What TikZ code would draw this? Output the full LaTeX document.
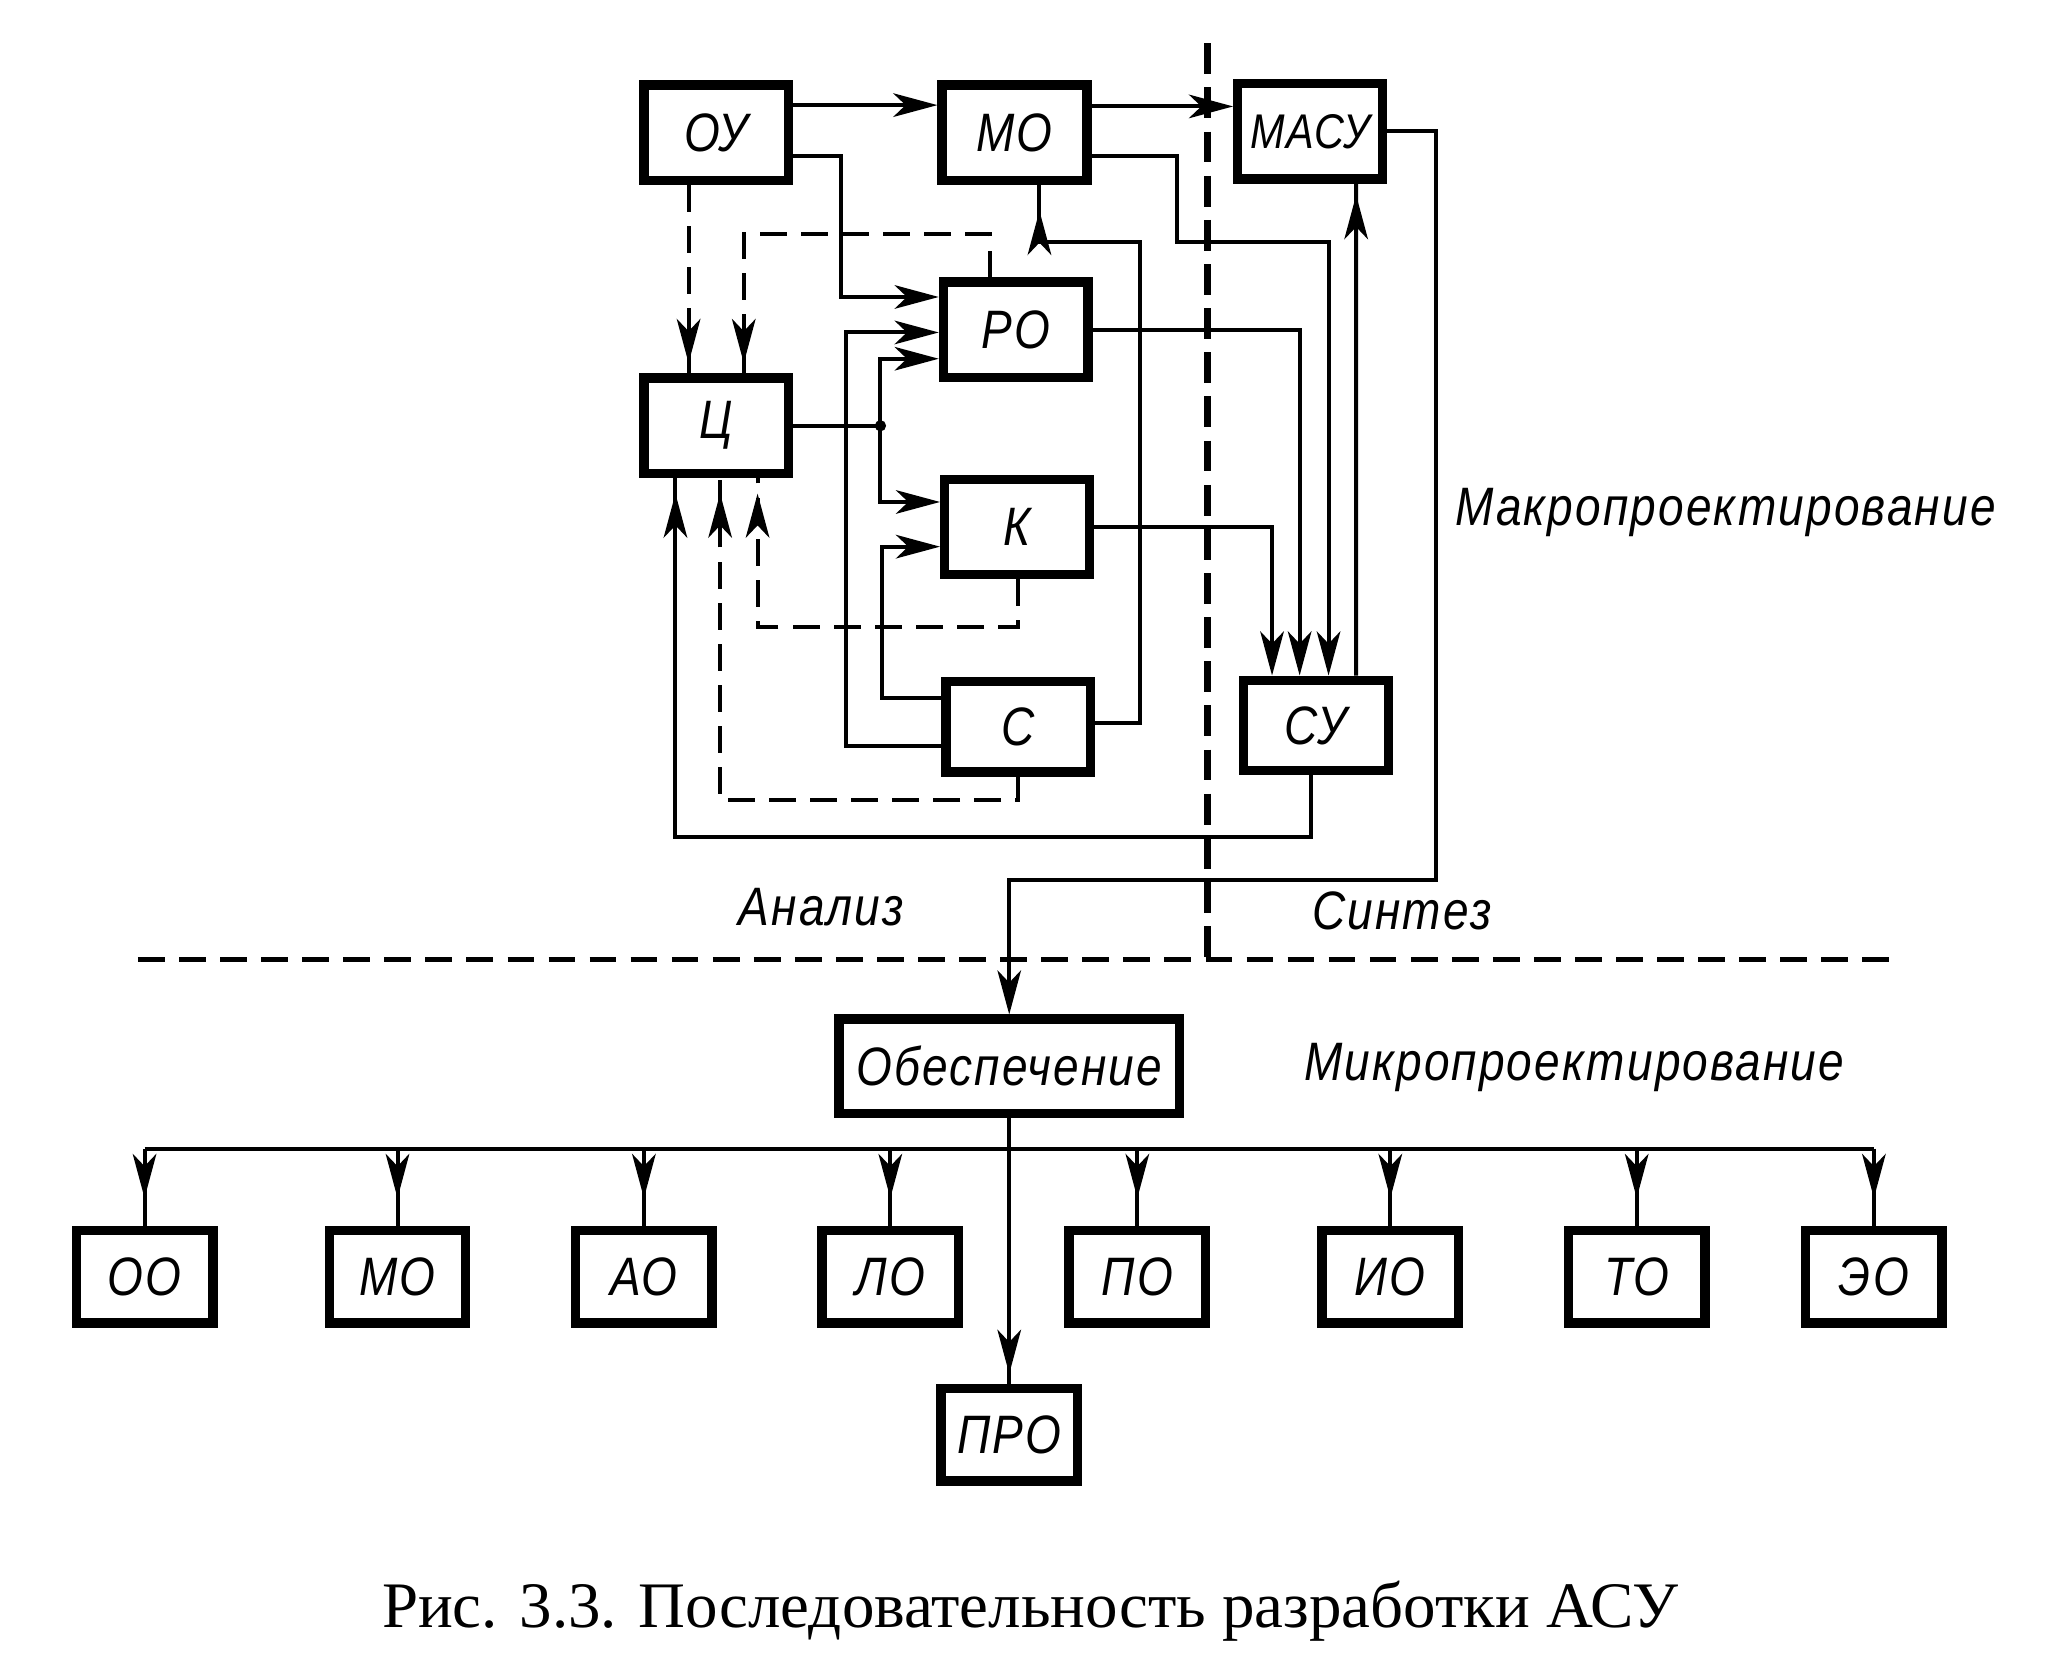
\documentclass[tikz,border=0pt]{standalone}
\usepackage{fontspec}
\setmainfont{Liberation Serif}
\newfontfamily\drawfont[FakeStretch=0.85,LetterSpace=4]{Liberation Sans}
\usetikzlibrary{calc, arrows.meta, decorations.markings}

\tikzset{
  flow/.tip={Stealth[length=4.3mm,width=2.3mm,inset=1.2mm]},
  blk/.style={draw, line width=2.6pt, minimum width=1.41cm, minimum height=0.93cm,
    inner sep=0pt, font=\drawfont\itshape\fontsize{15}{15}\selectfont},
  sblk/.style={blk, minimum width=1.33cm, minimum height=0.9cm},
  lbl/.style={font=\drawfont\itshape\fontsize{15}{15}\selectfont},
  dsh/.style={dash pattern=on 0.26cm off 0.14cm},
  tipgap/.style={postaction={decorate,decoration={markings,
    mark=at position -#1 with {\arrow{flow}}}}}
}

\begin{document}
\begin{tikzpicture}[x=0.0128cm, y=-0.0128cm, line width=1.1pt, >=flow]
    \useasboundingbox (0,0) rectangle (1560,1278);
    % Блоки макропроектирования
    \node[blk] (ou) at (545,101) {ОУ};
    \node[blk] (mo) at (772,101) {МО};
    \node[blk, font=\drawfont\itshape\fontsize{13.5}{13.5}\selectfont] (masu) at (997,100) {МАСУ};
    \node[blk] (ro) at (773,251) {РО};
    \node[blk] (tsl) at (545,324) {Ц};
    \node[blk] (ko) at (774,401) {К};
    \node[blk, minimum height=0.88cm] (so) at (775,553) {С};
    \node[blk, minimum height=0.88cm] (su) at (1001.5,552) {СУ};
    % Обеспечение и ПРО
    \node[blk, minimum width=3.32cm, minimum height=0.92cm] (obes) at (768,811.5) {Обеспечение};
    \node[sblk] (pro) at (768,1092) {ПРО};

    % Границы анализ / синтез / микро
    \draw[line width=2pt, dash pattern=on 0.3cm off 0.13cm] (919,33) -- (919,728);
    \draw[line width=1.5pt, dsh] (105,730) -- (1440,730);

    % Связи
    \draw[->] ($(ou.east)+(0,-21)$) -- ($(mo.west)+(0,-21)$);
    \draw[->] ($(mo.east)+(0,-20)$) -- ($(masu.west)+(0,-19)$);
    \draw[->] ($(ou.east)+(0,18)$) -| (640,226) -- ($(ro.west)+(0,-25)$);
    \draw[dsh, tipgap=0.1cm] ($(ou.south)+(-21,0)$) -- ($(tsl.north)+(-21,0)$);
    \draw[dsh, tipgap=0.1cm] ($(ro.north)+(-20,0)$) |- (566,178) -- ($(tsl.north)+(21,0)$);
    \draw (tsl.east) -- (670,324) coordinate (jn);
    \fill (jn) circle (0.055cm);
    \draw[->] (jn) |- ($(ro.west)+(0,22)$);
    \draw[->] (jn) |- ($(ko.west)+(0,-19)$);
    \draw[->] ($(so.west)+(0,15)$) -| (644,253) -- ($(ro.west)+(0,2)$);
    \draw[->] ($(so.west)+(0,-22)$) -| (671,416) -- ($(ko.west)+(0,15)$);
    \draw[dsh, tipgap=0.15cm] ($(ko.south)+(1,0)$) |- (576.5,477) -- ($(tsl.south)+(31.5,0)$);
    \draw[dsh, tipgap=0.15cm] (so.south) |- (548,609) -- ($(tsl.south)+(3,0)$);
    \draw[tipgap=0.15cm] ($(su.south)+(-3.5,0)$) |- (514,637) -- ($(tsl.south)+(-31,0)$);
    \draw[->] (ko.east) -| ($(su.north)+(-33.5,0)$);
    \draw[->] (ro.east) -| ($(su.north)+(-12.5,0)$);
    \draw[->] ($(mo.east)+(0,18)$) -| (896,184) -| ($(su.north)+(9.5,0)$);
    \draw[tipgap=0.11cm] ($(su.north)+(30.5,0)$) -- ($(masu.south)+(35,0)$);
    \draw[tipgap=0.25cm] ($(so.east)+(0,-3)$) -| (867.5,184) -| ($(mo.south)+(19,0)$);
    \draw[->] (masu.east) -| (1093,670) -| (obes.north);

    % Виды обеспечения
    \coordinate (bus) at (768,874);
    \foreach \nm/\tx/\xx in {oo/ОО/110, mob/МО/302.5, ao/АО/490, lo/ЛО/677.5,
        po/ПО/865.5, io/ИО/1058, tob/ТО/1245.5, eo/ЭО/1426} {
        \node[sblk] (\nm) at (\xx,971.5) {\tx};
        \draw[tipgap=0.27cm] (\nm.north |- bus) -- (\nm.north);
    }
    \draw (oo.north |- bus) -- (eo.north |- bus);
    \draw[tipgap=0.1cm] (obes.south) -- (pro.north);

    % Подписи
    \node[lbl] (anl) at (625,690) {Анализ};
    \node[lbl] (snt) at (1067,693) {Синтез};
    \node[lbl] (macro) at (1313,390) {Макропроектирование};
    \node[lbl] (micro) at (1198,812) {Микропроектирование};
    \node[font=\fontsize{18}{18}\selectfont] (cap) at (784,1226) {Рис. 3.3. Последовательность разработки АСУ};
\end{tikzpicture}
\end{document}
